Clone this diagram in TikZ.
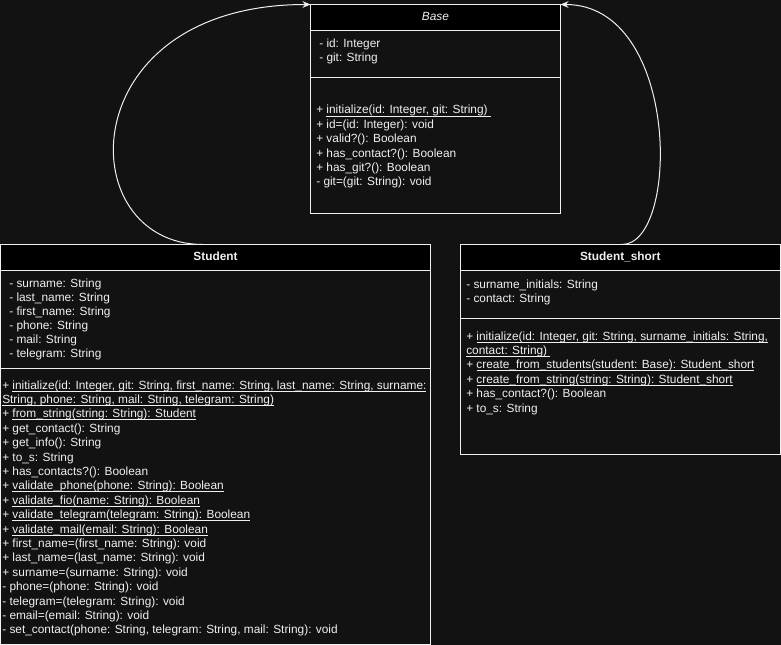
\documentclass[tikz,border=0pt]{standalone}
\usepackage{fontspec}
\setmainfont{Liberation Sans}
\usetikzlibrary{arrows.meta}
\definecolor{bg}{RGB}{18,18,18}
\definecolor{fg}{RGB}{240,240,240}
\newcommand\myu[1]{\underline{\smash{#1}}}
\begin{document}
\begin{tikzpicture}[x=0.75pt,y=-0.75pt,
 txt/.style={anchor=base west, inner sep=0pt, font=\fontsize{8.9}{10.8}\selectfont, text=fg},
 ttl/.style={anchor=base, inner sep=0pt, font=\fontsize{8.9}{10.8}\selectfont, text=fg},
 classbox/.style={draw=fg, line width=0.75pt, fill=bg, inner sep=0pt, outer sep=0pt, anchor=north west},
 sep/.style={draw=fg, line width=0.75pt},
 inh/.style={draw=fg, line width=0.75pt, -{Stealth[length=6pt,width=5pt]}}]
\fill[bg] (0,0) rectangle (781,645);
\useasboundingbox (0,0) rectangle (781,645);

% Base
\node[classbox, minimum width=187.5pt, minimum height=156.75pt] (base) at (310.5,4.5) {};
\filldraw[fill=black, draw=fg, line width=0.75pt] (base.north west) rectangle (560.5,30.5);
\draw[sep] (310.5,78) -- (560.5,78);
\node[ttl] (basettl) at (435.5,21) {\itshape Base};
\node[txt] (ba1) at (319,48) {- id: Integer};
\node[txt] (ba2) at (319,62) {- git: String};
\node[txt] (bm1) at (316,114) {+ \myu{initialize(id: Integer, git: String)\ }};
\node[txt] (bm2) at (316,128.4) {+ id=(id: Integer): void};
\node[txt] (bm3) at (316,142.8) {+ valid?(): Boolean};
\node[txt] (bm4) at (316,157.2) {+ has\_contact?(): Boolean};
\node[txt] (bm5) at (316,171.6) {+ has\_git?(): Boolean};
\node[txt] (bm6) at (316,186) {- git=(git: String): void};

% Student
\node[classbox, minimum width=322.5pt, minimum height=300pt] (student) at (0.5,244.5) {};
\filldraw[fill=black, draw=fg, line width=0.75pt] (student.north west) rectangle (430.5,270);
\draw[sep] (0.5,368) -- (430.5,368);
\node[ttl] (stttl) at (215.5,261) {\bfseries Student};
\node[txt] (sa1) at (9,287) {- surname: String};
\node[txt] (sa2) at (9,301) {- last\_name: String};
\node[txt] (sa3) at (9,315) {- first\_name: String};
\node[txt] (sa4) at (9,329) {- phone: String};
\node[txt] (sa5) at (9,343) {- mail: String};
\node[txt] (sa6) at (9,357) {- telegram: String};
\node[txt] (sm1) at (2,389) {+ \myu{initialize(id: Integer, git: String, first\_name: String, last\_name: String, surname:}};
\node[txt] (sm2) at (2,403.4) {\myu{String, phone: String, mail: String, telegram: String)}};
\node[txt] (sm3) at (2,417.8) {+ \myu{from\_string(string: String): Student}};
\node[txt] (sm4) at (2,432.2) {+ get\_contact(): String};
\node[txt] (sm5) at (2,446.6) {+ get\_info(): String};
\node[txt] (sm6) at (2,461) {+ to\_s: String};
\node[txt] (sm7) at (2,475.4) {+ has\_contacts?(): Boolean};
\node[txt] (sm8) at (2,489.8) {+ \myu{validate\_phone(phone: String): Boolean}};
\node[txt] (sm9) at (2,504.2) {+ \myu{validate\_fio(name: String): Boolean}};
\node[txt] (sm10) at (2,518.6) {+ \myu{validate\_telegram(telegram: String): Boolean}};
\node[txt] (sm11) at (2,533) {+ \myu{validate\_mail(email: String): Boolean}};
\node[txt] (sm12) at (2,547.4) {+ first\_name=(first\_name: String): void};
\node[txt] (sm13) at (2,561.8) {+ last\_name=(last\_name: String): void};
\node[txt] (sm14) at (2,576.2) {+ surname=(surname: String): void};
\node[txt] (sm15) at (2,590.6) {- phone=(phone: String): void};
\node[txt] (sm16) at (2,605) {- telegram=(telegram: String): void};
\node[txt] (sm17) at (2,619.4) {- email=(email: String): void};
\node[txt] (sm18) at (2,633.8) {- set\_contact(phone: String, telegram: String, mail: String): void};

% Student_short
\node[classbox, minimum width=239.625pt, minimum height=157.125pt] (short) at (460.5,244.5) {};
\filldraw[fill=black, draw=fg, line width=0.75pt] (short.north west) rectangle (780,270);
\draw[sep] (460.5,318) -- (780,318);
\node[ttl] (shttl) at (620.25,261) {\bfseries Student\_short};
\node[txt] (ha1) at (466,288) {- surname\_initials: String};
\node[txt] (ha2) at (466,302) {- contact: String};
\node[txt] (hm1) at (466,340) {+ \myu{initialize(id: Integer, git: String, surname\_initials: String,}};
\node[txt] (hm2) at (466,354.4) {\myu{contact: String)\ }};
\node[txt] (hm3) at (466,368.8) {+ \myu{create\_from\_students(student: Base): Student\_short}};
\node[txt] (hm4) at (466,383.2) {+ \myu{create\_from\_string(string: String): Student\_short}};
\node[txt] (hm5) at (466,397.6) {+ has\_contact?(): Boolean};
\node[txt] (hm6) at (466,412) {+ to\_s: String};

% Inheritance connectors
\draw[inh] ([xshift=-9.4pt]student.north) .. controls +(-133,0) and +(-240.5,0) .. (base.north west);
\draw[inh] ([xshift=1.3pt]short.north) .. controls +(58,0) and +(120,0) .. (base.north east);
\end{tikzpicture}
\end{document}
